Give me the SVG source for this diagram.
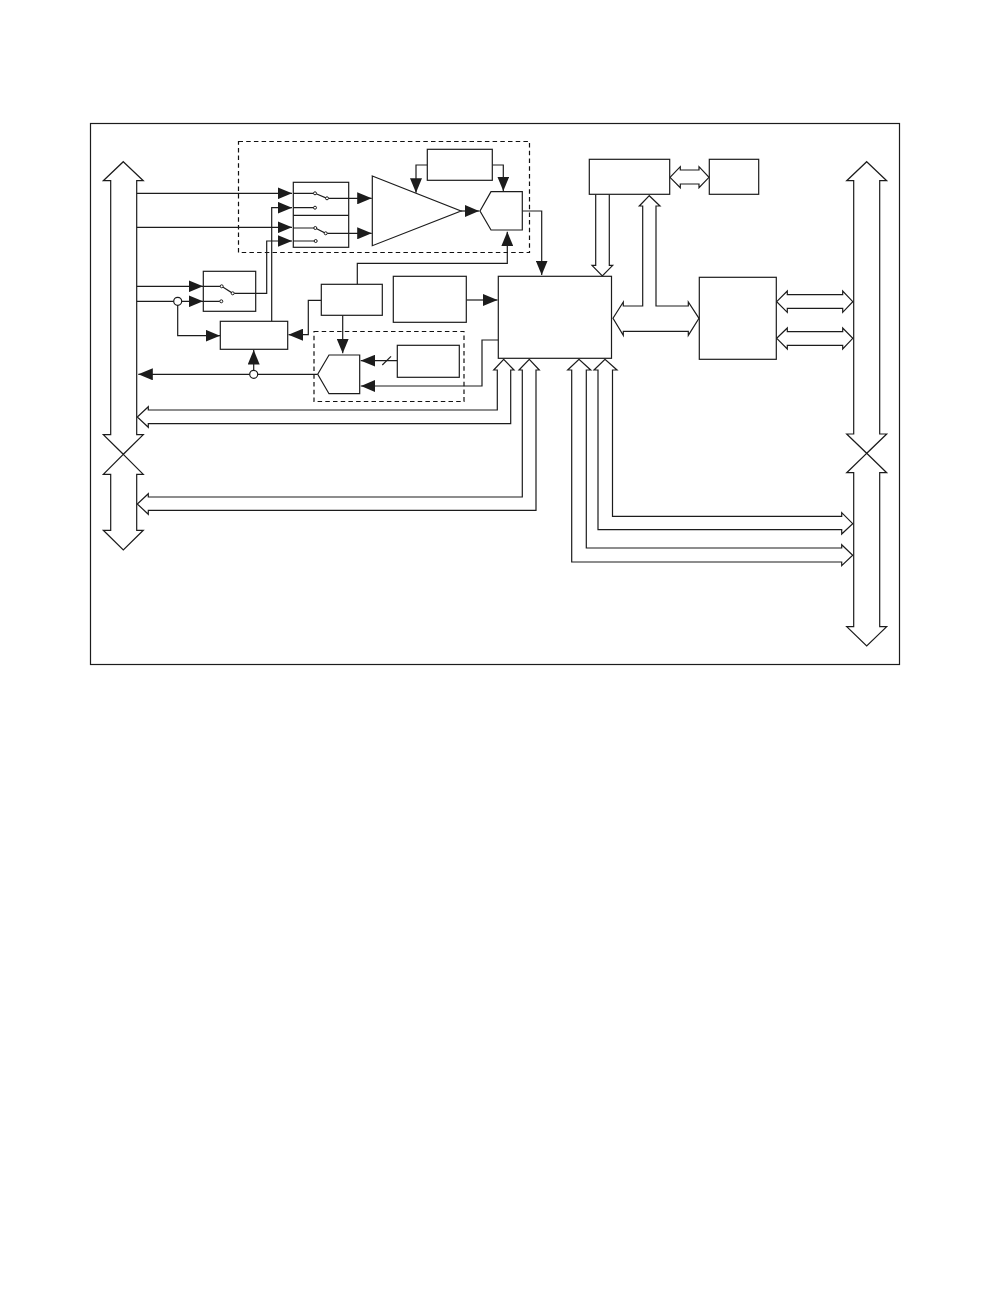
<svg xmlns="http://www.w3.org/2000/svg" width="1008" height="1296" viewBox="0 0 1008 1296">
<defs>
<style>
.n{fill:#fff;stroke:#1c1c1c;stroke-width:1.2}
.h{fill:none;stroke:#1c1c1c;stroke-width:1.2;stroke-linejoin:miter}
.w{fill:none;stroke:#1c1c1c;stroke-width:1.2}
.d{fill:none;stroke:#111;stroke-width:1.2;stroke-dasharray:4.500 3.200}
.a{fill:#1c1c1c;stroke:none}
.c{fill:#fff;stroke:#1c1c1c;stroke-width:1.2}
.s{fill:#fff;stroke:#1c1c1c;stroke-width:1}
</style>
<marker id="ah" viewBox="0 0 14.500 12" refX="14.500" refY="6" markerWidth="14.500" markerHeight="12" markerUnits="userSpaceOnUse" orient="auto"><path class="a" d="M0 0L14.500 6L0 12Z"/></marker>
</defs>
<rect width="1008" height="1296" fill="#fff"/>
<rect id="frame" x="90.500" y="123.500" width="809" height="541" fill="none" stroke="#1c1c1c" stroke-width="1.200"/>
<rect id="dash-top" class="d" x="238.500" y="141.500" width="291" height="111"/>
<rect id="dash-bottom" class="d" x="314" y="331.500" width="150" height="70"/>

<g id="connectors">
<g class="w">
<path marker-end="url(#ah)" d="M136.700 193.300H292"/>
<path marker-end="url(#ah)" d="M136.700 227.300H292"/>
<path marker-end="url(#ah)" d="M271.700 321.300V207.700H292"/>
<path marker-end="url(#ah)" d="M232.700 293.300H266.700V241H292"/>
<path marker-end="url(#ah)" d="M136.700 286.300H203"/>
<path marker-end="url(#ah)" d="M136.700 301.300H203"/>
<path marker-end="url(#ah)" d="M177.700 301.300V335.700H220"/>
<path marker-end="url(#ah)" d="M327 198.300H371.700"/>
<path marker-end="url(#ah)" d="M325.700 233.300H371.700"/>
<path marker-end="url(#ah)" d="M461 211H479.300"/>
<path marker-end="url(#ah)" d="M427.300 165H416V192.700"/>
<path marker-end="url(#ah)" d="M492.300 165H503.300V191"/>
<path marker-end="url(#ah)" d="M522.300 211H541.700V275"/>
<path marker-end="url(#ah)" d="M357.300 284.300V263.300H507.300V231.700"/>
<path marker-end="url(#ah)" d="M466.300 300H497.500"/>
<path marker-end="url(#ah)" d="M321.300 300.300H308.300V334.700H288.500"/>
<path marker-end="url(#ah)" d="M342.700 315.300V353.300"/>
<path marker-end="url(#ah)" d="M397.300 360.700H360.700"/>
<path marker-end="url(#ah)" d="M498.300 340H482V386H360.700"/>
<path marker-end="url(#ah)" d="M317.700 374.300H138.300"/>
<path marker-end="url(#ah)" d="M253.700 374.300V350"/>
<path d="M382.300 365L391 356.300"/>
</g>
<g class="h">
<path id="bus-a" d="M148.300 410H497.300V370H493.700L503.700 359.300L514 370H510.700V423.700H148.300V427.300L137.300 417L148.300 406.700Z"/>
<path id="bus-b" d="M148.300 497H522.300V370H519L529.300 359.300L539.300 370H536V510.300H148.300V514.300L137.300 504L148.300 493.700Z"/>
<path id="bus-c" d="M841.700 516.300H612.500V370H617L605 359.300L594 370H598V529.700H841.700V534L852.700 523.700L841.700 512.700Z"/>
<path id="bus-d" d="M841.700 548H586.300V370H590.700L579 359.300L567.700 370H571.700V562H841.700V565.700L852.700 555.300L841.700 544.700Z"/>
<path id="bus-e" d="M595.700 194.300V265.300H592L602.300 276L612.700 265.300H609.300V194.300"/>
<path id="bus-f" d="M649.300 195.700L660 206H656V306H688.300V302L699 318.300L688.300 335.300V331.300H623.300V335.300L613 318.300L623.300 302V306H642.700V206H639.300Z"/>
<path id="bus-g" d="M670 177.300L680.300 166.700V170H699V166.700L709 177.300L699 187.700V184H680.300V187.700Z"/>
<path id="bus-h" d="M776.700 301.700L787.300 291V294.700H842.700V291L852.800 301.700L842.700 312.300V308.300H787.300V312.300Z"/>
<path id="bus-i" d="M776.700 338.300L787.300 328V331.700H842.700V328L852.800 338.300L842.700 349V345.300H787.300V349Z"/>
</g>
<circle class="c" cx="177.700" cy="301.300" r="4"/>
<circle class="c" cx="253.700" cy="374.300" r="4"/>
</g>

<g id="left-bus-top"><path class="n" d="M123.300 161.700L143.300 180.700H136.700V434.700H143.300L123.300 454.300L103.300 434.700H110.700V180.700H103.300Z"/></g>
<g id="left-bus-bottom"><path class="n" d="M123.300 454.300L143.300 474.300H136.700V530.300H143.300L123.300 550L103.300 530.300H110.700V474.300H103.300Z"/></g>
<g id="right-bus-top"><path class="n" d="M866.700 161.700L886.700 180.700H879.700V434H886.700L866.700 453.300L846.700 434H853.700V180.700H846.700Z"/></g>
<g id="right-bus-bottom"><path class="n" d="M866.700 453.300L886.700 472.700H879.700V626.700H886.700L866.700 646L846.700 626.700H853.700V472.700H846.700Z"/></g>

<g id="mux">
<rect class="n" x="293.300" y="182.300" width="55.400" height="65"/>
<path class="w" d="M293.300 215.300H348.700M293.300 193.300H315L327 198.300H348.700M293.300 207.700H315M293.300 228H315.300L325.700 233.300H348.700M293.300 241H315.700"/>
<circle class="s" cx="315" cy="193.300" r="1.500"/><circle class="s" cx="327" cy="198.300" r="1.500"/><circle class="s" cx="315" cy="207.700" r="1.500"/>
<circle class="s" cx="315.300" cy="228" r="1.500"/><circle class="s" cx="325.700" cy="233.300" r="1.500"/><circle class="s" cx="315.700" cy="241" r="1.500"/>
</g>
<g id="switch">
<rect class="n" x="203.300" y="271.300" width="52.400" height="40"/>
<path class="w" d="M203.300 286.300H221.700L232.700 293.300H255.700M203.300 301.300H221.300"/>
<circle class="s" cx="221.700" cy="286.300" r="1.500"/><circle class="s" cx="232.700" cy="293.300" r="1.500"/><circle class="s" cx="221.300" cy="301.300" r="1.500"/>
</g>
<g id="amplifier"><path class="n" d="M372.300 176L461 211L372.300 245.700Z"/></g>
<g id="gain-box"><rect class="n" x="427.300" y="149.300" width="65" height="31"/></g>
<g id="adc-hex"><path class="n" d="M480 211L491 191.700H522.300V230H491Z"/></g>
<g id="box-ctrl"><rect class="n" x="321.300" y="284.300" width="61" height="31"/></g>
<g id="box-mid"><rect class="n" x="393.300" y="276.300" width="73" height="46"/></g>
<g id="main-block"><rect class="n" x="498.300" y="276.300" width="113.200" height="82"/></g>
<g id="box-sel"><rect class="n" x="220.300" y="321.300" width="67.400" height="28"/></g>
<g id="dac-hex"><path class="n" d="M317.700 374.300L329 355H359.700V393.700H329Z"/></g>
<g id="box-ref"><rect class="n" x="397.300" y="345.300" width="62" height="32"/></g>
<g id="box-top"><rect class="n" x="589.300" y="159.300" width="80.400" height="35"/></g>
<g id="box-small"><rect class="n" x="709.300" y="159.300" width="49.400" height="35"/></g>
<g id="box-right"><rect class="n" x="699.300" y="277.300" width="77" height="82"/></g>
</svg>
